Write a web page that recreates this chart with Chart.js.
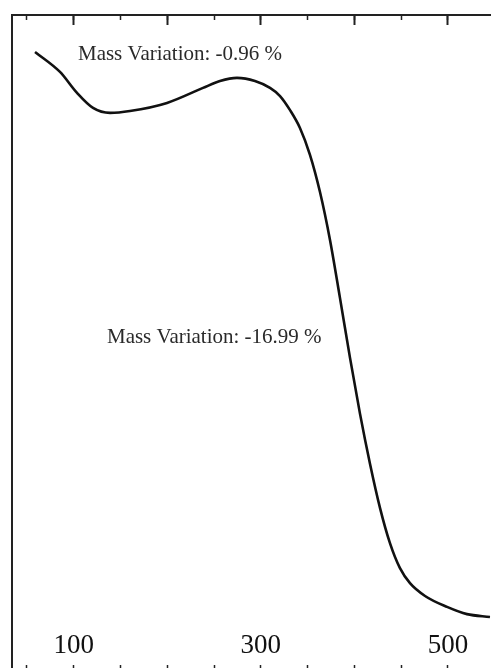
<!DOCTYPE html>
<html>
<head>
<meta charset="utf-8">
<script src="https://cdn.jsdelivr.net/npm/chart.js@4/dist/chart.umd.min.js"></script>
<style>
  html, body { margin: 0; padding: 0; background: #fff; overflow: hidden; }
  #wrap { position: absolute; left: 0; top: 0; width: 491px; height: 700px; }
</style>
</head>
<body>
<div id="wrap"><canvas id="myChart"></canvas></div>
<script>
// temperature (°C) and mass (%)
const temperature = [58.6, 85.3, 103.5, 120.6, 138.8, 160.1, 199.7, 238.2, 256.3, 274.5,
  293.7, 309.8, 320.5, 331.2, 341.8, 352.5, 363.2, 373.9, 384.6, 395.3,
  406.0, 416.7, 427.4, 438.0, 448.7, 459.4, 475.5, 499.0, 520.3, 544.9];
const mass = [99.82, 99.18, 98.51, 98.03, 97.87, 97.93, 98.19, 98.67, 98.89, 98.99,
  98.89, 98.67, 98.41, 97.96, 97.39, 96.53, 95.34, 93.81, 91.95, 90.04,
  88.25, 86.65, 85.24, 84.12, 83.32, 82.84, 82.43, 82.08, 81.85, 81.76];

const tickLabels = [100, 300, 500];

const noteText = ["Mass Variation: -0.96 %", "Mass Variation: -16.99 %"];
const noteX = [104.5, 135.5];
const noteY = [99.56, 90.52];

const xMin = 34, xMax = 546;
const axisColor = "#222";

const notes = {
  id: "notes",
  afterDatasetsDraw(chart) {
    const ctx = chart.ctx;
    const sx = chart.scales.x, sy = chart.scales.y;
    ctx.save();
    ctx.fillStyle = "#2a2a2a";
    ctx.font = '21px "Liberation Serif"';
    ctx.textAlign = "left";
    ctx.textBaseline = "alphabetic";
    noteText.forEach((t, i) => {
      ctx.fillText(t, sx.getPixelForValue(noteX[i]), sy.getPixelForValue(noteY[i]));
    });
    ctx.restore();
  }
};

function topAxis(step, len, width) {
  return {
    type: "linear",
    position: "top",
    min: xMin,
    max: xMax,
    afterFit: s => { s.height = 0; },
    border: { display: true, color: axisColor, width: 2 },
    grid: { display: true, drawOnChartArea: false, drawTicks: true, tickLength: -len, tickColor: axisColor, tickWidth: width },
    ticks: { display: false, stepSize: step, includeBounds: false }
  };
}

let ctx = document.getElementById("myChart").getContext("2d");
let myChart = new Chart(ctx, {
  type: "line",
  data: {
    datasets: [{
      data: temperature.map((t, i) => ({ x: t, y: mass[i] })),
      borderColor: "#111",
      borderWidth: 2.6,
      pointRadius: 0,
      fill: false,
      cubicInterpolationMode: "monotone",
      xAxisID: "x",
      yAxisID: "y"
    }]
  },
  options: {
    responsive: true,
    maintainAspectRatio: false,
    animation: false,
    events: [],
    layout: { padding: { left: 12, top: 15, right: 0, bottom: 28 } },
    plugins: { legend: { display: false }, tooltip: { enabled: false } },
    scales: {
      x: {
        type: "linear",
        position: "bottom",
        min: xMin,
        max: xMax,
        afterFit: s => { s.height = 0; },
        border: { display: false },
        grid: { display: true, drawOnChartArea: false, drawTicks: true, tickLength: -7, tickColor: axisColor, tickWidth: 1.5 },
        ticks: {
          stepSize: 50,
          includeBounds: false,
          autoSkip: false,
          maxRotation: 0,
          mirror: true,
          padding: 10,
          color: "#111",
          font: { family: "Liberation Serif", size: 27 },
          callback: v => tickLabels.includes(v) ? String(v) : ""
        }
      },
      xTopMinor: topAxis(50, 5, 1.5),
      xTop: topAxis(100, 10, 2),
      y: {
        type: "linear",
        position: "left",
        min: 80,
        max: 101,
        afterFit: s => { s.width = 0; },
        border: { display: true, color: axisColor, width: 2 },
        grid: { display: false },
        ticks: { display: false }
      }
    }
  },
  plugins: [notes]
});
</script>
</body>
</html>
